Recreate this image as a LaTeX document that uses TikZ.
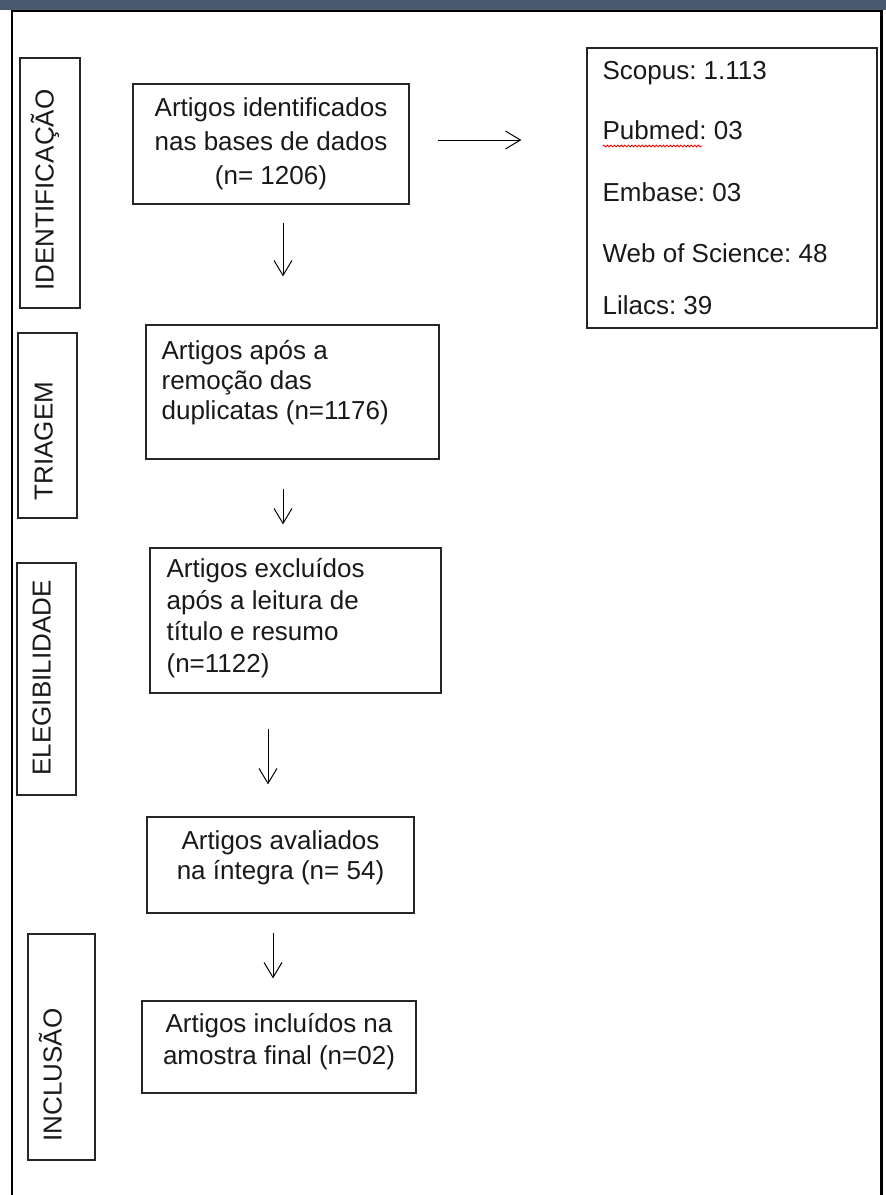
\documentclass[tikz,border=0pt]{standalone}
\usepackage{fontspec}
\setmainfont{Liberation Sans}
\usetikzlibrary{arrows.meta,decorations.pathmorphing}
\frenchspacing

\definecolor{barra}{HTML}{4A5A70}
\newcommand{\alto}{\rule{0pt}{25pt}}

\begin{document}
\begin{tikzpicture}[x = 1pt, y = -1pt,
        font = \fontsize{26}{31}\selectfont,
        caixa/.style = {draw = black!85, line width = 1.2pt, inner sep = 0pt},
        texto/.style = {inner sep = 0pt, text = black!90},
        rotulo/.style = {inner sep = 0pt, text = black!90, rotate = 90, anchor = base west},
        seta/.style = {line width = 1pt, -{Straight Barb[length = 15pt, width = 18pt]}}]
        \useasboundingbox (0,0) rectangle (886,1195);

        % moldura
        \fill [barra] (0,0) rectangle (886,9.5);
        \draw [line width = 2.5pt] (12,1195) -- (12,11) -- (881.5,11) -- (881.5,1195);

        % etapas
        \node [caixa, minimum width = 60pt, minimum height = 250pt] (l1) at (50,183) {};
        \node [caixa, minimum width = 59pt, minimum height = 185pt] (l2) at (47.5,425.5) {};
        \node [caixa, minimum width = 59pt, minimum height = 232pt] (l3) at (46.5,679) {};
        \node [caixa, minimum width = 67pt, minimum height = 226pt] (l4) at (61.5,1047) {};

        \node [rotulo] (r1) at ([xshift = -27pt, yshift = 18pt]l1.south east) {IDENTIFICAÇÃO};
        \node [rotulo] (r2) at ([xshift = -25pt, yshift = 18pt]l2.south east) {TRIAGEM};
        \node [rotulo] (r3) at ([xshift = -26pt, yshift = 20pt]l3.south east) {ELEGIBILIDADE};
        \node [rotulo] (r4) at ([xshift = -34pt, yshift = 19pt]l4.south east) {INCLUSÃO};

        % caixas
        \node [caixa, minimum width = 276pt, minimum height = 120pt] (b1) at (271,144) {};
        \node [caixa, minimum width = 293pt, minimum height = 134pt] (b2) at (292.5,392) {};
        \node [caixa, minimum width = 291pt, minimum height = 145pt] (b3) at (295.5,620.5) {};
        \node [caixa, minimum width = 267pt, minimum height = 96pt] (b4) at (280.5,865) {};
        \node [caixa, minimum width = 274pt, minimum height = 92pt] (b5) at (279,1047) {};
        \node [caixa, minimum width = 290pt, minimum height = 280pt] (src) at (732,188) {};

        \node [texto, anchor = north, align = center, font = \fontsize{26}{34}\selectfont]
            (t1) at ([yshift = -8pt]b1.north) {\alto Artigos identificados\\nas bases de dados\\(n= 1206)};
        \node [texto, anchor = north west, align = left, font = \fontsize{26}{30}\selectfont]
            (t2) at ([xshift = 16pt, yshift = -10pt]b2.north west) {\alto Artigos após a\\remoção das\\duplicatas (n=1176)};
        \node [texto, anchor = north west, align = left, font = \fontsize{26}{31.5}\selectfont]
            (t3) at ([xshift = 17pt, yshift = -5pt]b3.north west) {\alto Artigos excluídos\\após a leitura de\\título e resumo\\(n=1122)};
        \node [texto, anchor = north, align = center, font = \fontsize{26}{30}\selectfont]
            (t4) at ([yshift = -8pt]b4.north) {\alto Artigos avaliados\\na íntegra (n= 54)};
        \node [texto, anchor = north, align = center, font = \fontsize{26}{32}\selectfont]
            (t5) at ([yshift = -7pt]b5.north) {\alto Artigos incluídos na\\amostra final (n=02)};
        \node [texto, anchor = north west, align = left]
            (t6) at ([xshift = 16pt, yshift = -7pt]src.north west)
            {\alto Scopus: 1.113\\[29pt]Pubmed: 03\\[31pt]Embase: 03\\[30pt]Web of Science: 48\\[21pt]Lilacs: 39};
        \draw [red, line width = 0.8pt, decorate, decoration = {zigzag, segment length = 3.5pt, amplitude = 1pt}]
            (603,146) -- (702,146);

        % setas
        \draw [seta, shorten < = 18pt, shorten > = 48pt] ([xshift = 12pt]b1.south) -- ([xshift = -9.5pt]b2.north);
        \draw [seta, shorten < = 29pt, shorten > = 23pt] ([xshift = -9.5pt]b2.south) -- ([xshift = -12.5pt]b3.north);
        \draw [seta, shorten < = 35pt, shorten > = 32pt] ([xshift = -27.5pt]b3.south) -- ([xshift = -12.5pt]b4.north);
        \draw [seta, shorten < = 19pt, shorten > = 22pt] ([xshift = -7.5pt]b4.south) -- ([xshift = -6pt]b5.north);
        \draw [seta, shorten < = 28pt, shorten > = 65pt] ([yshift = 4pt]b1.east) -- ([yshift = 48pt]src.west);
    \end{tikzpicture}
\end{document}
